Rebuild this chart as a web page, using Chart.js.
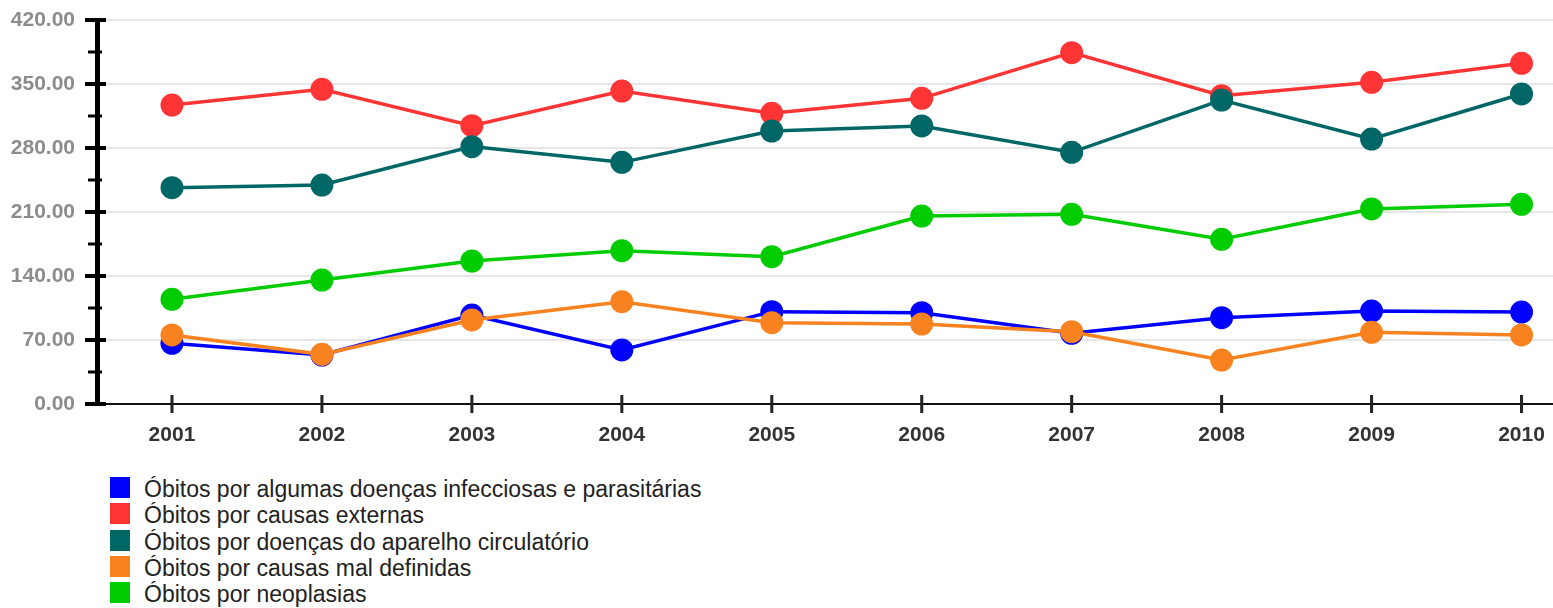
<!DOCTYPE html>
<html lang="pt">
<head>
<meta charset="utf-8">
<title>Óbitos por causa, 2001–2010</title>
<script src="https://cdn.jsdelivr.net/npm/chart.js@4/dist/chart.umd.min.js"></script>
<style>
  html, body { margin: 0; padding: 0; background: #fff; overflow: hidden; width: 1553px; height: 608px; }
  #wrap { position: absolute; left: 0; top: 0; width: 1608px; height: 460px; }
  #legend { position: absolute; left: 110px; top: 476px; font-family: "Liberation Sans", Arial, sans-serif; font-size: 23px; color: #222; }
  .row { display: flex; align-items: flex-start; height: 26.25px; line-height: 26px; white-space: nowrap; }
  .box { width: 20px; height: 21px; margin-top: 1px; margin-right: 14px; flex: none; }
</style>
</head>
<body>
<div id="wrap"><canvas id="chart" width="1608" height="460"></canvas></div>
<div id="legend"></div>
<script>
// Anos (eixo X)
const years = ['2001', '2002', '2003', '2004', '2005', '2006', '2007', '2008', '2009', '2010'];

// Séries (óbitos)
const infecciosas  = [66.4, 53.6, 97.3, 59.1, 101.0, 99.9, 77.3, 94.4, 101.7, 100.6];
const externas     = [327.0, 344.2, 304.4, 342.3, 318.0, 334.3, 384.3, 337.2, 351.8, 372.6];
const circulatorio = [236.6, 239.5, 281.5, 264.3, 298.6, 304.1, 275.3, 332.5, 289.8, 339.1];
const malDefinidas = [75.5, 54.3, 91.9, 111.9, 89.0, 87.5, 79.1, 48.1, 78.4, 75.5];
const neoplasias   = [114.5, 135.6, 156.4, 167.7, 161.1, 205.6, 207.5, 180.1, 213.3, 218.4];

// Eixo Y
const yMin = 0;
const yMax = 420;
const yStep = 70;

const seriesNames = [
  'Óbitos por algumas doenças infecciosas e parasitárias',
  'Óbitos por causas externas',
  'Óbitos por doenças do aparelho circulatório',
  'Óbitos por causas mal definidas',
  'Óbitos por neoplasias'
];
const seriesData = [infecciosas, externas, circulatorio, malDefinidas, neoplasias];
const seriesColors = ['#0000ff', '#ff3535', '#006666', '#f7821f', '#00cc00'];

Chart.defaults.font.family = '"Liberation Sans", Arial, sans-serif';

// Marcas dos eixos: traços maiores/menores no eixo Y e traços nas categorias do eixo X
const axisMarks = {
  id: 'axisMarks',
  afterDraw(chart) {
    const { ctx, chartArea } = chart;
    const ys = chart.scales.y, xs = chart.scales.x;
    const left = chartArea.left, bottom = chartArea.bottom;
    ctx.save();
    ctx.fillStyle = '#000';
    ys.ticks.forEach(t => {
      const py = ys.getPixelForValue(t.value);
      ctx.fillRect(left - 12, py - 2, 21, 4);
      const half = t.value + yStep / 2;
      if (half < yMax) {
        const pm = ys.getPixelForValue(half);
        ctx.fillRect(left - 9, pm - 1.5, 14, 3);
      }
    });
    ctx.fillStyle = '#222';
    years.forEach((_, i) => {
      const px = xs.getPixelForValue(i);
      ctx.fillRect(px - 1.5, bottom - 9, 3, 18);
    });
    ctx.restore();
  }
};

const n = seriesNames.length;
new Chart(document.getElementById('chart'), {
  type: 'line',
  data: {
    labels: years,
    datasets: seriesNames.map((name, i) => ({
      label: name,
      data: seriesData[i],
      borderColor: seriesColors[i],
      backgroundColor: seriesColors[i],
      pointBackgroundColor: seriesColors[i],
      pointBorderWidth: 0,
      pointRadius: 11.5,
      pointHoverRadius: 11.5,
      borderWidth: 3.5,
      tension: 0,
      fill: false,
      order: n - i
    }))
  },
  options: {
    responsive: false,
    animation: false,
    layout: { padding: { top: 20, left: 0, right: 0, bottom: 0 } },
    plugins: { legend: { display: false }, tooltip: { enabled: false } },
    scales: {
      x: {
        type: 'category',
        offset: true,
        grid: { display: false, drawTicks: false },
        border: { display: true, color: '#111', width: 2 },
        ticks: { color: '#333', font: { size: 21, weight: 'bold' }, padding: 19, maxRotation: 0, autoSkip: false },
        afterFit(scale) { scale.height = 56; scale.paddingLeft = 0; scale.paddingRight = 0; }
      },
      y: {
        min: yMin,
        max: yMax,
        grid: { color: '#e6e6e6', lineWidth: 2, drawTicks: false },
        border: { display: true, color: '#000', width: 5 },
        ticks: {
          stepSize: yStep,
          color: '#8c8c8c',
          font: { size: 21, weight: 'bold' },
          padding: 22,
          callback: v => Number(v).toFixed(2)
        },
        afterFit(scale) { scale.width = 97; scale.paddingTop = 0; scale.paddingBottom = 0; }
      }
    }
  },
  plugins: [axisMarks]
});

// Legenda
const legend = document.getElementById('legend');
seriesNames.forEach((name, i) => {
  const row = document.createElement('div');
  row.className = 'row';
  const box = document.createElement('span');
  box.className = 'box';
  box.style.background = seriesColors[i];
  const txt = document.createElement('span');
  txt.textContent = name;
  row.appendChild(box);
  row.appendChild(txt);
  legend.appendChild(row);
});
</script>
</body>
</html>
